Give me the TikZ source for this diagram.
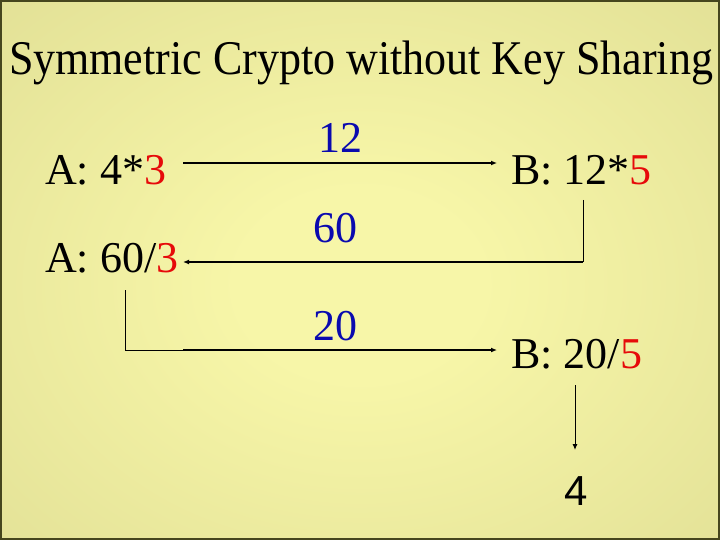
\documentclass[tikz,border=0pt]{standalone}
\usepackage{fontspec}
\setmainfont{Liberation Serif}
\newfontfamily\arialfont{Liberation Sans}
\usetikzlibrary{arrows.meta}
\definecolor{bgin}{RGB}{247,246,168}
\definecolor{bgmid}{RGB}{214,212,140}
\definecolor{bgout}{RGB}{168,166,104}
\definecolor{bord}{RGB}{70,70,30}
\definecolor{keyred}{RGB}{230,10,10}
\definecolor{msgblue}{RGB}{10,10,175}
\pgfdeclareradialshading{bgshade}{\pgfpoint{0bp}{0bp}}{%
  color(0bp)=(bgin); color(8bp)=(bgin); color(50bp)=(bgmid); color(72bp)=(bgout)}
\tikzset{
  lbl/.style={inner sep=0pt, font=\fontsize{44}{50}\selectfont},
  msg/.style={lbl, text=msgblue, anchor=base},
  arr/.style={line width=1.8pt, -{Latex[length=6pt,width=5pt]}},
  thinln/.style={line width=1pt},
}
\begin{document}
\begin{tikzpicture}[x=1pt,y=-1pt]
\useasboundingbox (0,0) rectangle (720,540);
\shade[shading=bgshade] (-20,-10) rectangle (740,580);
\draw[bord, line width=2pt] (1,1) rectangle (719,539);
% title
\node[lbl, anchor=base] (title) at (361,75) {\scalebox{1}[1.1]{Symmetric Crypto without Key Sharing}};
% A side
\node[lbl, anchor=base west] (a1) at (45,185) {A: 4*\textcolor{keyred}{3}};
\node[lbl, anchor=base west] (a2) at (45,272) {A: 60/\textcolor{keyred}{3}};
% B side
\node[lbl, anchor=base west] (b1) at (511,185) {B: 12*\textcolor{keyred}{5}};
\node[lbl, anchor=base west] (b2) at (511,368) {B: 20/\textcolor{keyred}{5}};
\node[lbl, anchor=base, font=\arialfont\fontsize{42}{48}\selectfont] (res) at (576,505) {4};
% messages
\node[msg] (m12) at (340,153) {12};
\node[msg] (m60) at (335,243) {60};
\node[msg] (m20) at (335,340) {20};
% connectors
\coordinate (p1) at (183,163);
\coordinate (p2) at (497,163);
\draw[arr] (p1) -- (p2);
\coordinate (q1) at (583,200);
\coordinate (q2) at (583,262);
\coordinate (q3) at (183,262);
\draw[thinln] (q1) -- (q2);
\draw[arr] (q2) -- (q3);
\coordinate (r1) at (125,290);
\coordinate (r2) at (125,350);
\coordinate (r3) at (183,350);
\coordinate (r4) at (497,350);
\draw[thinln] (r1) -- (r2) -- (r3);
\draw[arr] (r3) -- (r4);
\coordinate (s1) at (575,385);
\coordinate (s2) at (575,450);
\draw[thinln, -{Latex[length=6pt,width=5pt]}] (s1) -- (s2);
\end{tikzpicture}
\end{document}
